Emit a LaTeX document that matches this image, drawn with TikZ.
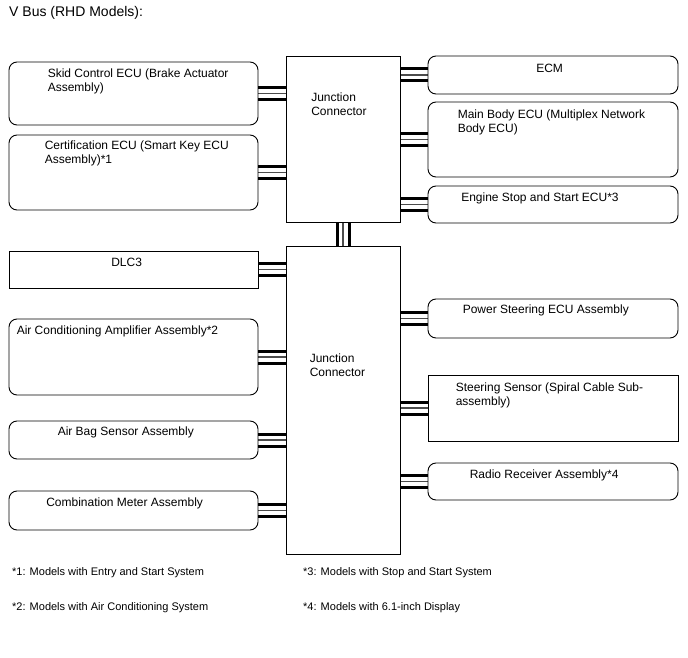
\documentclass[tikz,border=0pt]{standalone}
\usepackage{fontspec}
\setmainfont{Liberation Sans}
\usetikzlibrary{positioning,backgrounds}

\begin{document}
\begin{tikzpicture}[
    x=1pt, y=-1pt,
    font=\fontsize{12}{14}\selectfont,
    ecubox/.style={draw, rounded corners=8pt, line width=0.9pt, inner sep=0pt},
    plainbox/.style={draw, line width=0.9pt, inner sep=0pt},
    leftbox/.style={minimum width=249pt},
    rightbox/.style={minimum width=250pt},
    jcbox/.style={draw, line width=0.9pt, inner sep=0pt, minimum width=114pt},
    boxtext/.style={inner sep=0pt, align=left},
    bus/.style={draw=black!70, line width=1.3pt,
        preaction={draw=black, line width=15pt},
        preaction={draw=white, line width=9pt}},
    note/.style={anchor=west, inner sep=0pt, font=\fontsize{11}{12}\selectfont}
]
\useasboundingbox (0,0) rectangle (688,658);

\node[anchor=west, inner sep=0pt, font=\fontsize{14}{16}\selectfont] (title) at (9,13) {V Bus (RHD Models):};

% junction connectors
\node[jcbox, minimum height=166pt] (jcA) at (343,139.5) {};
\node[jcbox, minimum height=307.5pt] (jcB) at (343,400.25) {};
\node[boxtext, below right=37pt and 25.5pt of jcA.north west] (jcAtxt) {Junction\\Connector};
\node[boxtext, below right=107.5pt and 24pt of jcB.north west] (jcBtxt) {Junction\\Connector};

% left side
\node[ecubox, leftbox, minimum height=63pt] (skid) at (133.5,93.5) {};
\node[ecubox, leftbox, minimum height=75pt] (cert) at (133.5,172.5) {};
\node[plainbox, leftbox, minimum height=37pt] (dlc) at (133.5,269.5) {};
\node[ecubox, leftbox, minimum height=76pt] (aircon) at (133.5,357) {};
\node[ecubox, leftbox, minimum height=38pt] (airbag) at (133.5,440) {};
\node[ecubox, leftbox, minimum height=39pt] (combo) at (133.5,510.5) {};

\node[boxtext, below right=7.5pt and 39pt of skid.north west] (skidtxt) {Skid Control ECU (Brake Actuator\\Assembly)};
\node[boxtext, below right=6.5pt and 36pt of cert.north west] (certtxt) {Certification ECU (Smart Key ECU\\Assembly)*1};
\node[boxtext, below right=7pt and 102.5pt of dlc.north west] (dlctxt) {DLC3};
\node[boxtext, below right=7.5pt and 8pt of aircon.north west] (aircontxt) {Air Conditioning Amplifier Assembly*2};
\node[boxtext, below right=6.5pt and 49pt of airbag.north west] (airbagtxt) {Air Bag Sensor Assembly};
\node[boxtext, below right=7pt and 37.5pt of combo.north west] (combotxt) {Combination Meter Assembly};

% right side
\node[ecubox, rightbox, minimum height=38pt] (ecm) at (553,75) {};
\node[ecubox, rightbox, minimum height=75pt] (mainbody) at (553,139.5) {};
\node[ecubox, rightbox, minimum height=37pt] (engine) at (553,204.5) {};
\node[ecubox, rightbox, minimum height=39pt] (powerst) at (553,318.5) {};
\node[plainbox, rightbox, minimum height=66pt] (steer) at (553,408) {};
\node[ecubox, rightbox, minimum height=37pt] (radio) at (553,481.5) {};

\node[boxtext, below right=8pt and 108.5pt of ecm.north west] (ecmtxt) {ECM};
\node[boxtext, below right=8pt and 30pt of mainbody.north west] (mainbodytxt) {Main Body ECU (Multiplex Network\\Body ECU)};
\node[boxtext, below right=7pt and 33.5pt of engine.north west] (enginetxt) {Engine Stop and Start ECU*3};
\node[boxtext, below right=6.5pt and 35pt of powerst.north west] (powersttxt) {Power Steering ECU Assembly};
\node[boxtext, below right=8pt and 28pt of steer.north west] (steertxt) {Steering Sensor (Spiral Cable Sub-\\assembly)};
\node[boxtext, below right=7pt and 42pt of radio.north west] (radiotxt) {Radio Receiver Assembly*4};

% bus lines
\begin{scope}[on background layer]
\draw[bus] (jcA.south) -- (jcB.north);
\foreach \ecu in {skid, cert}
    \draw[bus] (\ecu.east) -- (\ecu.east -| jcA.west);
\foreach \ecu in {dlc, aircon, airbag, combo}
    \draw[bus] (\ecu.east) -- (\ecu.east -| jcB.west);
\foreach \ecu in {ecm, mainbody, engine}
    \draw[bus] (jcA.east |- \ecu.west) -- (\ecu.west);
\foreach \ecu in {powerst, steer, radio}
    \draw[bus] (jcB.east |- \ecu.west) -- (\ecu.west);
\end{scope}

% notes
\node[note] (noteA) at (12,573) {*1: Models with Entry and Start System};
\node[note] (noteB) at (12,608) {*2: Models with Air Conditioning System};
\node[note] (noteC) at (303,573) {*3: Models with Stop and Start System};
\node[note] (noteD) at (303,608) {*4: Models with 6.1-inch Display};
\end{tikzpicture}
\end{document}
